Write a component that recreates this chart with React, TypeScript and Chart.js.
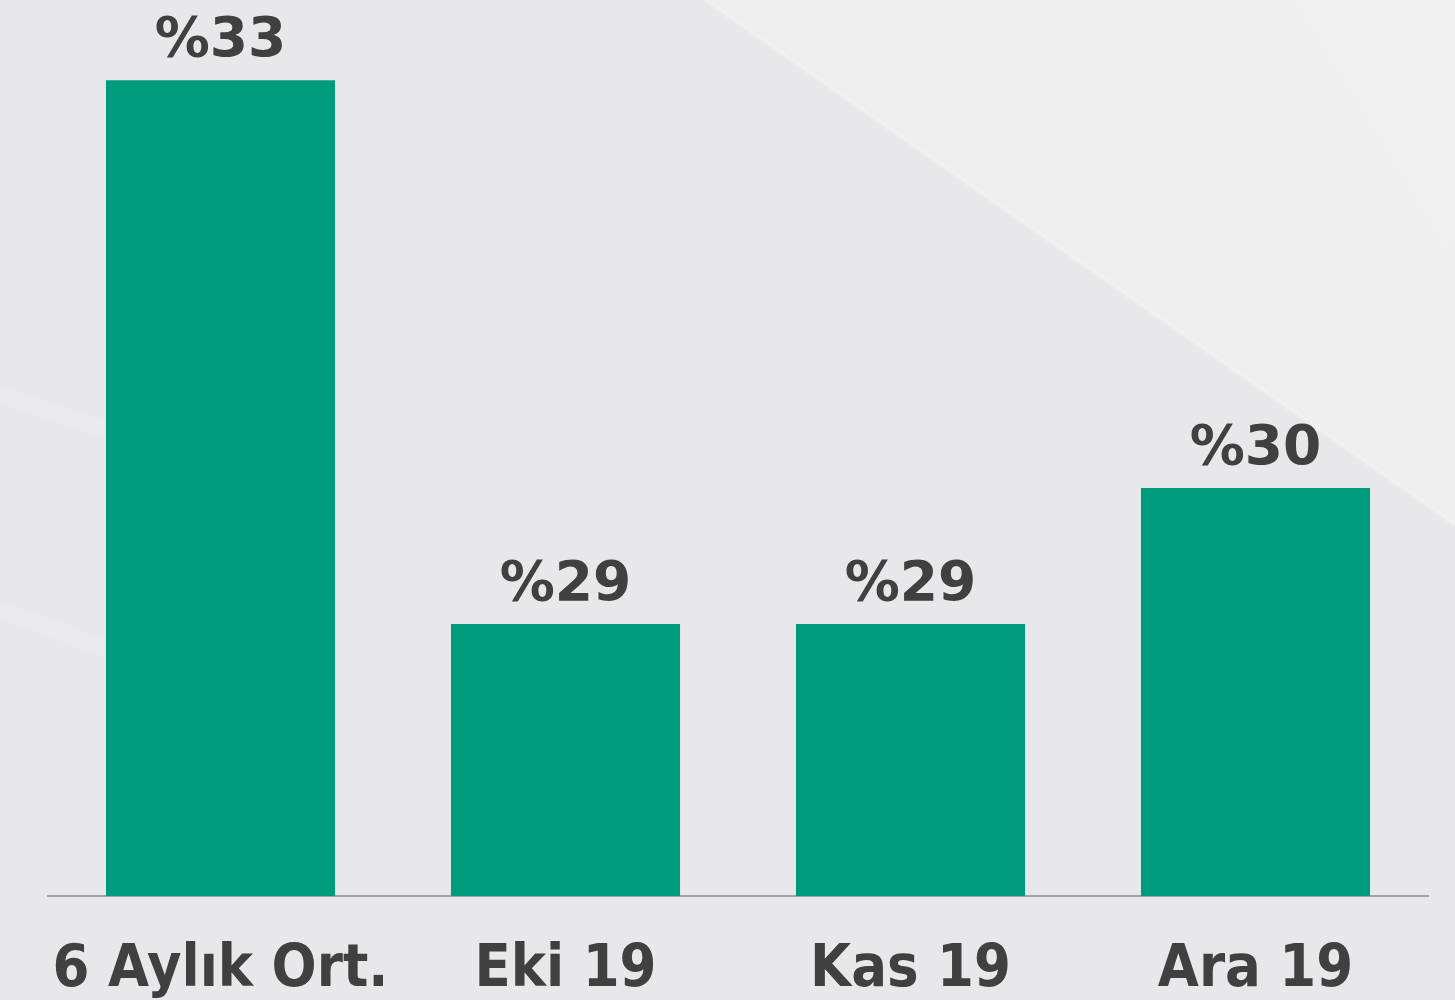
import React, { useEffect, useRef } from "react";
import { Chart, registerables } from "chart.js";

Chart.register(...registerables);

const categories: string[] = ["6 Aylık Ort.", "Eki 19", "Kas 19", "Ara 19"];
const values: number[] = [33, 29, 29, 30];
const valueLabels: string[] = ["%33", "%29", "%29", "%30"];

const XFONT = "'DejaVu Sans Condensed', 'DejaVu Sans', sans-serif";
const VFONT = "'DejaVu Sans', sans-serif";

const bgPlugin = {
  id: "bgPlugin",
  beforeDraw(chart: any) {
    const { ctx, width, height } = chart;
    ctx.save();
    ctx.fillStyle = "#e8e8ea";
    ctx.fillRect(0, 0, width, height);
    // lighter upper-right region
    const g = ctx.createLinearGradient(705, 0, 1200, -300);
    g.addColorStop(0, "#eeeeee");
    g.addColorStop(1, "#f0f0f0");
    ctx.fillStyle = g;
    ctx.beginPath();
    ctx.moveTo(705, 0);
    ctx.lineTo(width, 0);
    ctx.lineTo(width, 525);
    ctx.closePath();
    ctx.fill();
    // faint highlight along the diagonal
    ctx.strokeStyle = "rgba(255,255,255,0.18)";
    ctx.lineWidth = 5;
    ctx.beginPath();
    ctx.moveTo(705, 0);
    ctx.lineTo(width, 525);
    ctx.stroke();
    // faint lower-left streaks
    ctx.strokeStyle = "rgba(255,255,255,0.12)";
    ctx.lineWidth = 18;
    ctx.beginPath();
    ctx.moveTo(0, 395);
    ctx.lineTo(110, 430);
    ctx.stroke();
    ctx.beginPath();
    ctx.moveTo(0, 610);
    ctx.lineTo(110, 650);
    ctx.stroke();
    ctx.restore();
  },
};

const labelPlugin = {
  id: "labelPlugin",
  afterDatasetsDraw(chart: any) {
    const { ctx } = chart;
    const meta = chart.getDatasetMeta(0);
    ctx.save();
    ctx.fillStyle = "#404040";
    ctx.font = `bold 55px ${VFONT}`;
    ctx.textAlign = "center";
    ctx.textBaseline = "alphabetic";
    meta.data.forEach((bar: any, i: number) => {
      ctx.fillText(valueLabels[i], bar.x, bar.y - 24);
    });
    ctx.restore();
  },
};

export default function App() {
  const ref = useRef<HTMLCanvasElement>(null);
  useEffect(() => {
    if (!ref.current) return;
    const chart = new Chart(ref.current, {
      type: "bar",
      data: {
        labels: categories,
        datasets: [
          {
            data: values,
            backgroundColor: "#009b7d",
            borderWidth: 0,
            barPercentage: 0.664,
            categoryPercentage: 1,
          },
        ],
      },
      options: {
        animation: false,
        responsive: false,
        maintainAspectRatio: false,
        layout: { padding: { left: 48, right: 27, top: 0, bottom: 0 } },
        plugins: { legend: { display: false }, tooltip: { enabled: false } },
        scales: {
          x: {
            grid: { display: false, drawTicks: false },
            border: { display: true, color: "#a3a3a3", width: 2 },
            ticks: {
              color: "#404040",
              font: { family: XFONT, size: 59, weight: "bold" },
              padding: 39,
              maxRotation: 0,
              autoSkip: false,
            },
            afterFit(scale: any) {
              scale.height = 104;
            },
          },
          y: {
            display: false,
            min: 27,
            max: 33.59,
          },
        },
      },
      plugins: [bgPlugin, labelPlugin],
    });
    return () => chart.destroy();
  }, []);
  return (
    <div style={{ position: "fixed", left: 0, top: 0, width: 1455, height: 1000 }}>
      <canvas ref={ref} width={1455} height={1000} style={{ width: 1455, height: 1000, display: "block" }} />
    </div>
  );
}
